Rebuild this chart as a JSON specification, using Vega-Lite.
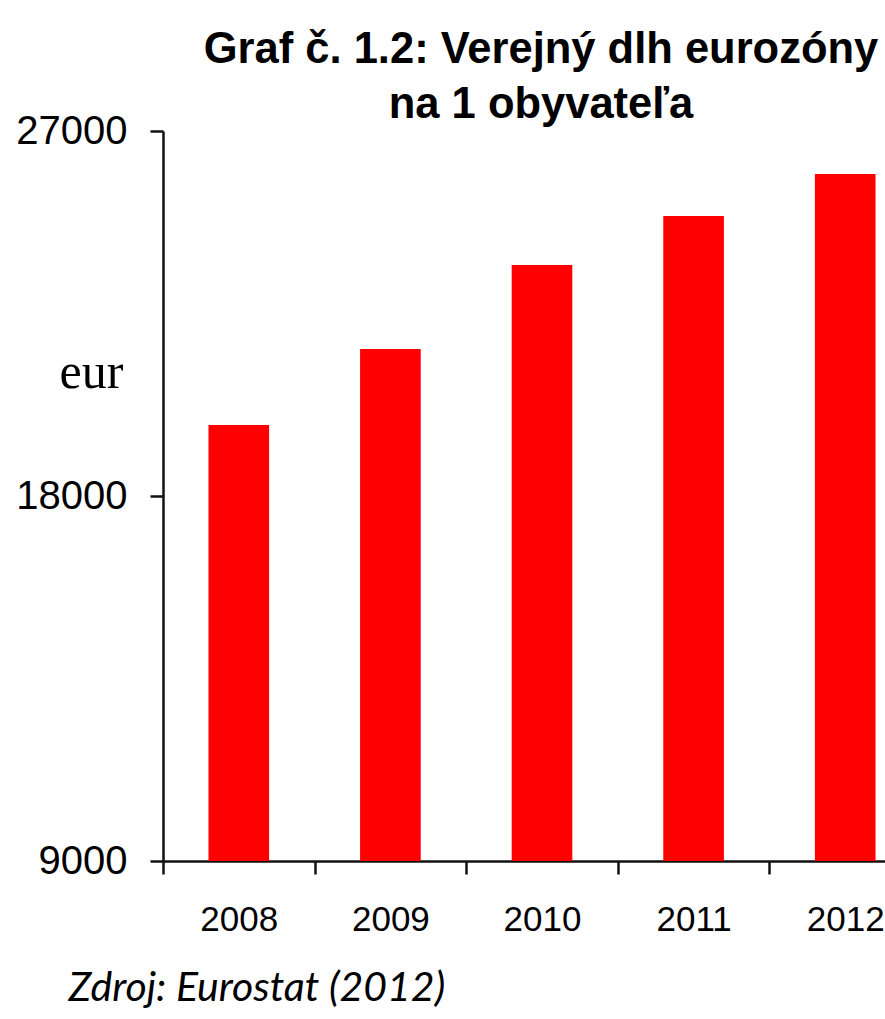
{
  "$schema": "https://vega.github.io/schema/vega-lite/v6.json",
  "autosize": {"type": "none"},
  "width": 722,
  "height": 730,
  "padding": {"left": 163, "top": 131, "right": 0, "bottom": 158},
  "background": "white",
  "title": {
    "text": ["Graf č. 1.2: Verejný dlh eurozóny", "na 1 obyvateľa"],
    "font": "Liberation Sans",
    "fontSize": 43.5,
    "fontWeight": "bold",
    "color": "black",
    "lineHeight": 55,
    "anchor": "middle",
    "dx": 17,
    "dy": 16,
    "offset": 0
  },
  "data": {
    "values": [
      {"year": "2008", "value": 19751},
      {"year": "2009", "value": 21625},
      {"year": "2010", "value": 23696},
      {"year": "2011", "value": 24904},
      {"year": "2012", "value": 25940}
    ]
  },
  "mark": {"type": "bar", "color": "#ff0000", "width": {"band": 0.4}},
  "encoding": {
    "x": {
      "field": "year",
      "type": "ordinal",
      "scale": {"range": [0, 758], "paddingInner": 0, "paddingOuter": 0},
      "axis": {
        "title": "Zdroj: Eurostat (2012)",
        "titleFont": "Lato",
        "titleFontStyle": "italic",
        "titleFontWeight": "normal",
        "titleFontSize": 41,
        "titleColor": "black",
        "titleX": -95,
        "titleY": 139,
        "titleAlign": "left",
        "titleBaseline": "alphabetic",
        "labelAngle": 0,
        "labelFont": "Liberation Sans",
        "labelFontSize": 35,
        "labelColor": "black",
        "labelPadding": 28,
        "tickBand": "extent",
        "tickSize": 13,
        "tickWidth": 2.5,
        "tickColor": "#111",
        "domainColor": "#111",
        "domainWidth": 2.5,
        "grid": false
      }
    },
    "y": {
      "field": "value",
      "type": "quantitative",
      "scale": {"domain": [9000, 27000], "nice": false, "zero": false},
      "axis": {
        "values": [9000, 18000, 27000],
        "format": "d",
        "title": "eur",
        "titleFont": "Liberation Serif",
        "titleFontSize": 50,
        "titleFontWeight": "normal",
        "titleColor": "black",
        "titleAngle": 0,
        "titleX": -72,
        "titleY": 256,
        "titleAlign": "center",
        "titleBaseline": "alphabetic",
        "labelFont": "Liberation Sans",
        "labelFontSize": 40,
        "labelColor": "black",
        "labelPadding": 23,
        "tickSize": 13,
        "tickWidth": 2.5,
        "tickColor": "#111",
        "domainColor": "#111",
        "domainWidth": 2.5,
        "grid": false
      }
    },
    "y2": {"datum": 9000}
  },
  "config": {"view": {"stroke": null}}
}
